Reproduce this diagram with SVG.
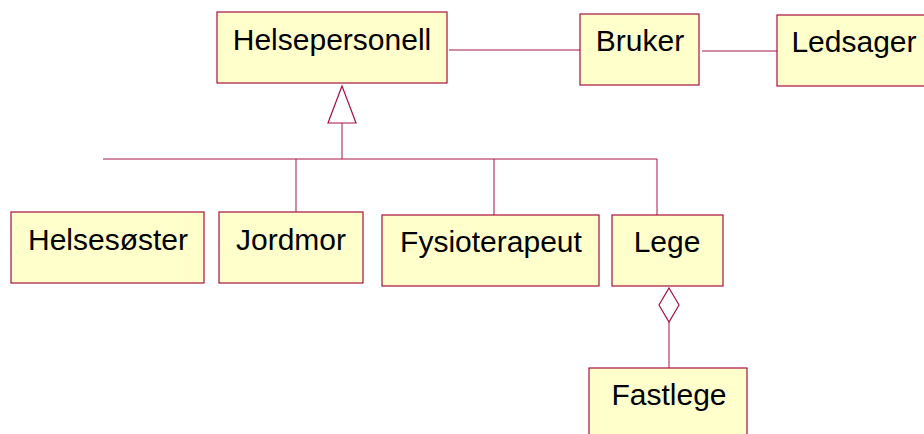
<svg xmlns="http://www.w3.org/2000/svg" width="924" height="434" viewBox="0 0 924 434">
<style>
.box{fill:#ffffcc;stroke:#a8103f;stroke-width:1.2}
.lbl{font-family:"Liberation Sans",Arial,sans-serif;font-size:30px;fill:#000;text-anchor:middle}
.c{fill:none;stroke:#a5174a;stroke-width:1}
.h{fill:#fff;stroke:#a8103f;stroke-width:1.2}
</style>
<rect width="924" height="434" fill="#fff"/>
<g id="connectors">
<line class="c" x1="449" y1="50" x2="580" y2="50"/>
<line class="c" x1="702" y1="51" x2="777" y2="51"/>
<line class="c" x1="342" y1="123" x2="342" y2="159"/>
<line class="c" x1="103" y1="159" x2="657" y2="159"/>
<line class="c" x1="296" y1="159" x2="296" y2="212"/>
<line class="c" x1="494" y1="159" x2="494" y2="215"/>
<line class="c" x1="657" y1="159" x2="657" y2="215"/>
<polygon class="h" points="342,86 356,123 328,123"/>
<line class="c" x1="669" y1="322" x2="669" y2="368"/>
<polygon class="h" points="669,288 679,305 669,322 659,305"/>
</g>
<g id="helsepersonell"><rect class="box" x="217" y="12" width="230" height="71"/><text class="lbl" x="332" y="50">Helsepersonell</text></g>
<g id="bruker"><rect class="box" x="580" y="14" width="119" height="71"/><text class="lbl" x="640" y="51">Bruker</text></g>
<g id="ledsager"><rect class="box" x="777" y="15" width="160" height="71"/><text class="lbl" x="854" y="52">Ledsager</text></g>
<g id="helsesoster"><rect class="box" x="11" y="212" width="193" height="71"/><text class="lbl" x="108" y="250">Helsesøster</text></g>
<g id="jordmor"><rect class="box" x="219" y="212" width="144" height="71"/><text class="lbl" x="291" y="250">Jordmor</text></g>
<g id="fysioterapeut"><rect class="box" x="382" y="215" width="217" height="71"/><text class="lbl" x="491" y="252">Fysioterapeut</text></g>
<g id="lege"><rect class="box" x="612" y="215" width="111" height="71"/><text class="lbl" x="667" y="252">Lege</text></g>
<g id="fastlege"><rect class="box" x="589" y="368" width="158" height="80"/><text class="lbl" x="669" y="405">Fastlege</text></g>
</svg>
